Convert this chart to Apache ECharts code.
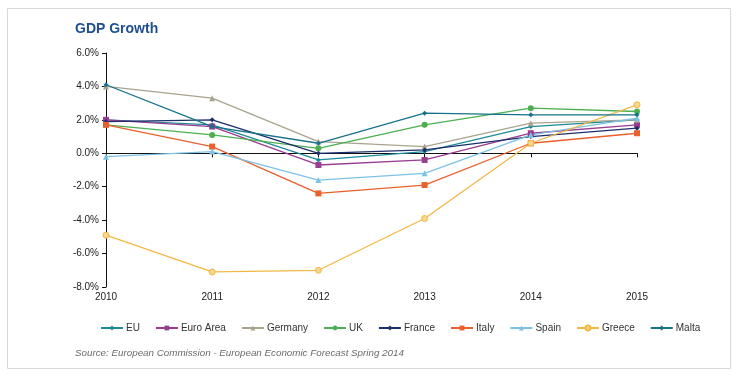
<!DOCTYPE html>
<html>
<head>
<meta charset="utf-8">
<script src="https://cdn.jsdelivr.net/npm/echarts@6/dist/echarts.min.js"></script>
<style>html,body{margin:0;padding:0;background:#fff}#c{width:739px;height:378px}</style>
</head>
<body>
<div id="c"></div>
<script>
var years = ['2010','2011','2012','2013','2014','2015'];
var eu       = [2.0, 1.7, -0.4, 0.1, 1.6, 2.0];
var euroArea = [2.0, 1.6, -0.7, -0.4, 1.2, 1.7];
var germany  = [4.0, 3.3, 0.7, 0.4, 1.8, 2.0];
var uk       = [1.7, 1.1, 0.3, 1.7, 2.7, 2.5];
var france   = [1.9, 2.0, 0.0, 0.2, 1.0, 1.5];
var italy    = [1.7, 0.4, -2.4, -1.9, 0.6, 1.2];
var spain    = [-0.2, 0.1, -1.6, -1.2, 1.1, 2.1];
var greece   = [-4.9, -7.1, -7.0, -3.9, 0.6, 2.9];
var malta    = [4.1, 1.6, 0.6, 2.4, 2.3, 2.3];

var seriesDefs = [
  {name:'EU', data:eu, color:'#1d8b98', symbol:'diamond', size:5},
  {name:'Euro Area', data:euroArea, color:'#9a3c90', symbol:'rect', size:6},
  {name:'Germany', data:germany, color:'#a9a48f', symbol:'triangle', size:6},
  {name:'UK', data:uk, color:'#4cb050', symbol:'circle', size:6},
  {name:'France', data:france, color:'#1c2f6c', symbol:'diamond', size:5},
  {name:'Italy', data:italy, color:'#e8602c', symbol:'rect', size:6},
  {name:'Spain', data:spain, color:'#7dc1e5', symbol:'triangle', size:6},
  {name:'Greece', data:greece, color:'#f3b843', symbol:'circle', size:6, fill:'#f8d68c'},
  {name:'Malta', data:malta, color:'#16718a', symbol:'diamond', size:5}
];

var chart = echarts.init(document.getElementById('c'), null, {renderer:'canvas'});
var font = 'Liberation Sans, Arial, sans-serif';
chart.setOption({
  animation: false,
  backgroundColor: '#fff',
  title: {
    text: 'GDP Growth', left: 70, top: 17,
    textStyle: {fontFamily: font, fontSize: 14, fontWeight: 'bold', color: '#1f4f8e'}
  },
  graphic: [
    {type:'rect', shape:{x:7.5, y:8.5, width:723, height:360}, style:{fill:'none', stroke:'#d8d8d8', lineWidth:1}, z:-1},
    {type:'text', left:75, top:348, style:{text:'Source: European Commission - European Economic Forecast Spring 2014', fill:'#6b6b6b', font:'italic 9.8px Liberation Sans, Arial, sans-serif'}}
  ],
  legend: {
    left: 95, top: 318,
    itemWidth: 22, itemHeight: 6, itemGap: 15,
    textStyle: {fontFamily: font, fontSize: 10, color: '#333', padding:[0,0,0,-2]},
    data: seriesDefs.map(function(s){return s.name;})
  },
  grid: {left: 106, right: 102, top: 53, bottom: 91, containLabel:false, outerBoundsMode:'none'},
  xAxis: {
    type:'category', data: years, boundaryGap:false, position:'bottom',
    axisLine:{show:true, onZero:true, lineStyle:{color:'#111', width:1}},
    axisTick:{show:true, length:4, lineStyle:{color:'#111'}},
    axisLabel:{fontFamily:font, fontSize:10, color:'#222', margin:5},
    splitLine:{show:false}
  },
  yAxis: {
    type:'value', min:-8, max:6, interval:2,
    axisLine:{show:true, lineStyle:{color:'#111', width:1}},
    axisTick:{show:true, length:4, lineStyle:{color:'#111'}},
    splitLine:{show:false},
    axisLabel:{fontFamily:font, fontSize:10, color:'#222', margin:7,
      formatter:function(v){return v.toFixed(1)+'%';}}
  },
  series: seriesDefs.map(function(s){
    return {
      name:s.name, type:'line', data:s.data,
      symbol:s.symbol, symbolSize:s.size, showSymbol:true,
      lineStyle:{color:s.color, width:1.3},
      itemStyle:{color:s.fill || s.color, borderColor:s.color, borderWidth:s.fill?1:0},
      color:s.color
    };
  })
});
</script>
</body>
</html>
